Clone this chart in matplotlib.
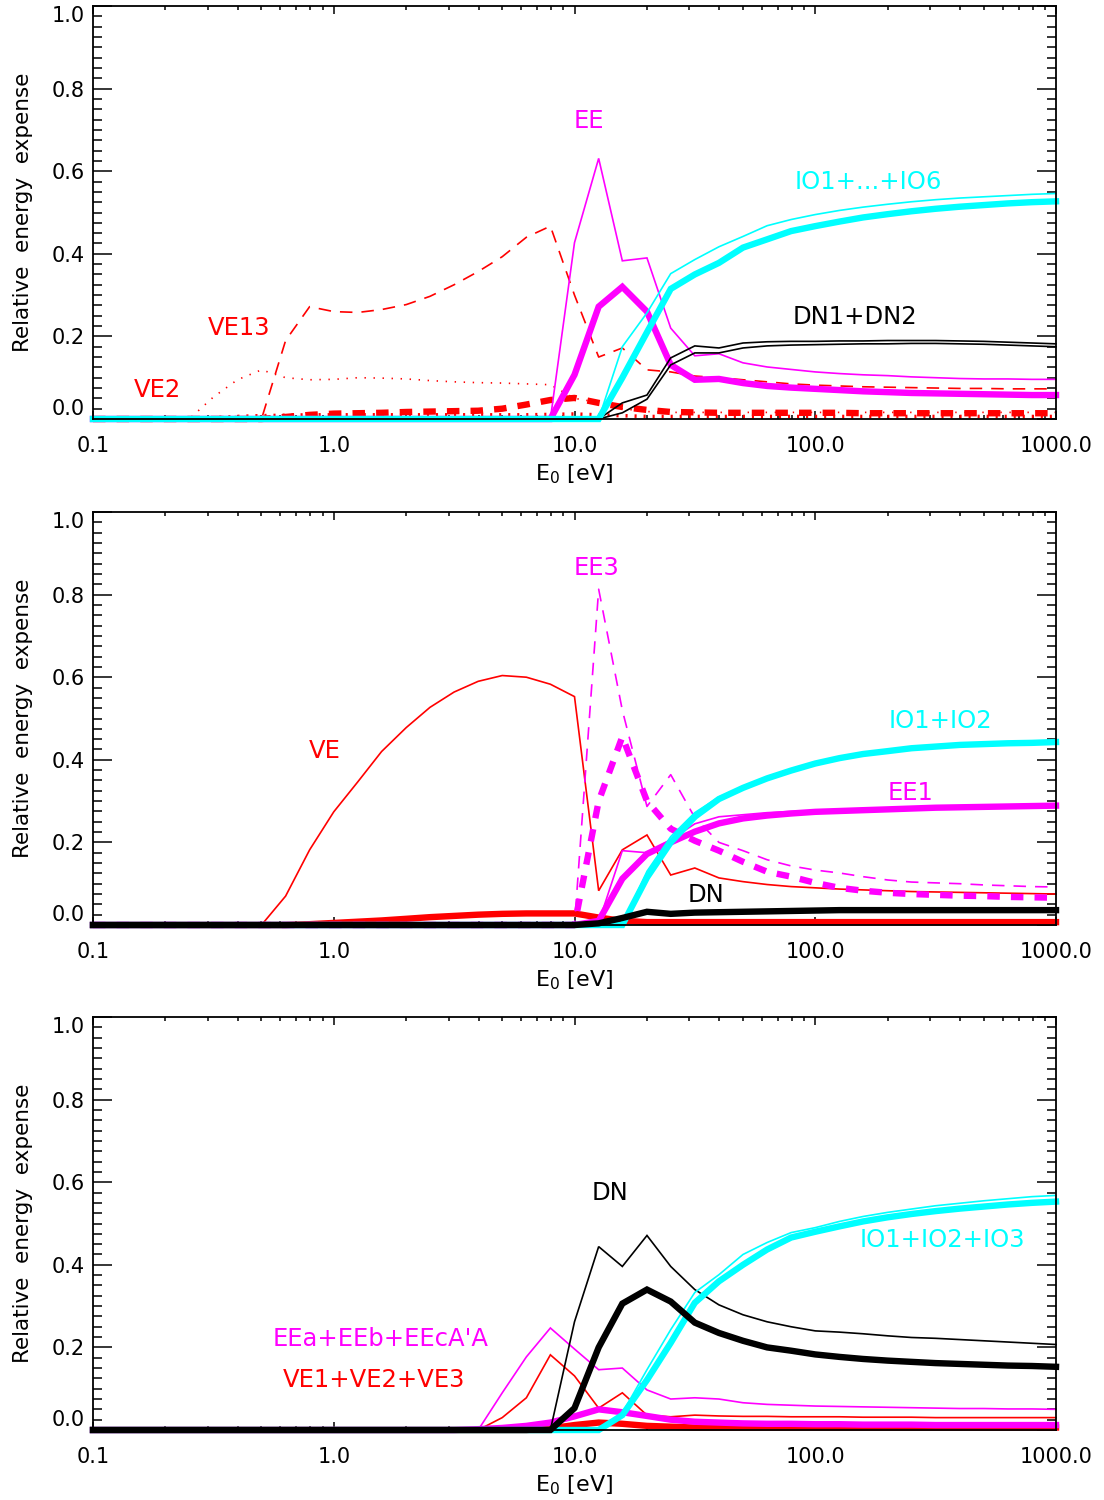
import matplotlib
matplotlib.use('Agg')
import matplotlib.pyplot as plt
from matplotlib import ticker

plt.rcParams['font.family'] = 'DejaVu Sans'
plt.rcParams['lines.scale_dashes'] = False

# energy grid [eV], 10 points per decade
x_ev = [0.1, 0.126, 0.158, 0.2, 0.251, 0.316, 0.398, 0.501, 0.631, 0.794,
        1.0, 1.26, 1.58, 2.0, 2.51, 3.16, 3.98, 5.01, 6.31, 7.94,
        10.0, 12.6, 15.8, 20.0, 25.1, 31.6, 39.8, 50.1, 63.1, 79.4,
        100.0, 126.0, 158.0, 200.0, 251.0, 316.0, 398.0, 501.0, 631.0, 794.0,
        1000.0]
x_ticks = [0.1, 1.0, 10.0, 100.0, 1000.0]
x_ticklabels = ['0.1', '1.0', '10.0', '100.0', '1000.0']
y_ticks = [0.0, 0.2, 0.4, 0.6, 0.8, 1.0]

# ---- panel 1
ee_thin = [0.0] * 20 + [0.427, 0.631, 0.383, 0.39, 0.22, 0.153, 0.158, 0.136, 0.126, 0.12,
                        0.114, 0.11, 0.107, 0.105, 0.102, 0.10, 0.098, 0.097, 0.097, 0.096, 0.096]
ee_thick = [0.0] * 20 + [0.107, 0.272, 0.32, 0.26, 0.131, 0.095, 0.097, 0.087, 0.08, 0.076,
                         0.073, 0.07, 0.067, 0.065, 0.063, 0.062, 0.061, 0.06, 0.059, 0.058, 0.058]
io6_thin = [0.0] * 22 + [0.175, 0.257, 0.352, 0.386, 0.417, 0.442, 0.468, 0.483, 0.495, 0.505,
                         0.513, 0.52, 0.526, 0.531, 0.535, 0.538, 0.541, 0.544, 0.546]
io6_thick = [0.0] * 22 + [0.10, 0.21, 0.315, 0.35, 0.378, 0.415, 0.435, 0.455, 0.467, 0.478,
                          0.488, 0.496, 0.503, 0.509, 0.514, 0.518, 0.522, 0.525, 0.527]
dn12_a = [0.0] * 22 + [0.039, 0.058, 0.148, 0.177, 0.172, 0.184, 0.187, 0.188, 0.188, 0.189,
                       0.189, 0.19, 0.19, 0.19, 0.189, 0.188, 0.186, 0.184, 0.182]
dn12_b = [0.0] * 22 + [0.015, 0.048, 0.131, 0.16, 0.16, 0.172, 0.177, 0.179, 0.18, 0.181,
                       0.182, 0.182, 0.183, 0.183, 0.182, 0.181, 0.179, 0.177, 0.175]
ve13_thin = [0.0] * 8 + [0.19, 0.272, 0.26, 0.258, 0.265, 0.277, 0.297, 0.325, 0.357, 0.393,
                         0.44, 0.467, 0.3, 0.15, 0.172, 0.119, 0.114, 0.104, 0.1, 0.095,
                         0.09, 0.085, 0.082, 0.08, 0.078, 0.077, 0.076, 0.075, 0.074, 0.074,
                         0.073, 0.073, 0.073]
ve13_thick = [0.0] * 8 + [0.005, 0.01, 0.013, 0.014, 0.015, 0.017, 0.018, 0.019, 0.02, 0.025,
                          0.035, 0.046, 0.051, 0.039, 0.029, 0.022, 0.017, 0.016, 0.015, 0.015,
                          0.015, 0.015, 0.015, 0.015, 0.014, 0.014, 0.014, 0.014, 0.014, 0.014,
                          0.014, 0.014, 0.014]
ve2_thin = [0.0] * 5 + [0.053, 0.095, 0.119, 0.1, 0.095, 0.096, 0.1, 0.099, 0.097, 0.093,
                        0.09, 0.088, 0.087, 0.085, 0.083, 0.05, 0.04, 0.025, 0.018] + [0.016] * 17
ve2_thick = [0.0] * 5 + [0.003, 0.006, 0.008, 0.009, 0.01, 0.01, 0.01, 0.01, 0.01, 0.01,
                         0.01, 0.01, 0.01, 0.01, 0.011, 0.012, 0.01, 0.008] + [0.006] * 18

# ---- panel 2
ve_thin = [0.0] * 8 + [0.07, 0.182, 0.274, 0.347, 0.42, 0.478, 0.527, 0.564, 0.59, 0.604,
                       0.6, 0.583, 0.553, 0.083, 0.182, 0.218, 0.121, 0.138, 0.114, 0.105,
                       0.098, 0.093, 0.09, 0.087, 0.085, 0.083, 0.081, 0.08, 0.079, 0.078,
                       0.077, 0.076, 0.075]
ve_thick = [0.0] * 9 + [0.002, 0.005, 0.008, 0.011, 0.015, 0.019, 0.022, 0.025, 0.027, 0.028,
                        0.028, 0.028, 0.018, 0.01] + [0.007] * 18
ee3_thin = [0.0] * 21 + [0.813, 0.52, 0.287, 0.364, 0.26, 0.2, 0.18, 0.158, 0.143, 0.133,
                         0.126, 0.117, 0.109, 0.104, 0.102, 0.1, 0.097, 0.095, 0.093, 0.092]
ee3_thick = [0.0] * 21 + [0.3, 0.456, 0.3, 0.233, 0.204, 0.18, 0.153, 0.129, 0.117, 0.102,
                          0.09, 0.083, 0.078, 0.075, 0.073, 0.071, 0.07, 0.068, 0.067, 0.066]
ee1_thin = [0.0] * 21 + [0.006, 0.18, 0.175, 0.206, 0.245, 0.262, 0.267, 0.272, 0.275, 0.277,
                         0.279, 0.28, 0.282, 0.284, 0.285, 0.287, 0.288, 0.289, 0.29, 0.291]
ee1_thick = [0.0] * 21 + [0.01, 0.112, 0.172, 0.2, 0.226, 0.246, 0.258, 0.265, 0.27, 0.274,
                          0.276, 0.278, 0.28, 0.282, 0.284, 0.285, 0.286, 0.287, 0.288, 0.289]
io2_thin = [0.0] * 23 + [0.13, 0.214, 0.272, 0.31, 0.335, 0.357, 0.376, 0.393, 0.405, 0.415,
                         0.422, 0.43, 0.432, 0.437, 0.439, 0.44, 0.441, 0.444]
io2_thick = [0.0] * 23 + [0.115, 0.2, 0.262, 0.305, 0.332, 0.355, 0.374, 0.391, 0.404, 0.414,
                          0.421, 0.428, 0.432, 0.436, 0.438, 0.44, 0.441, 0.443]
dn_thick2 = [0.0] * 21 + [0.004, 0.017, 0.032, 0.027, 0.03, 0.031, 0.032, 0.033, 0.034, 0.035,
                          0.036, 0.036, 0.036, 0.036, 0.036, 0.036, 0.036, 0.036, 0.036, 0.036]

# ---- panel 3
dn_thin3 = [0.0] * 20 + [0.262, 0.444, 0.396, 0.471, 0.396, 0.34, 0.303, 0.279, 0.262, 0.25,
                         0.24, 0.237, 0.233, 0.228, 0.224, 0.222, 0.219, 0.216, 0.213, 0.21, 0.207]
dn_thick3 = [0.0] * 20 + [0.053, 0.2, 0.306, 0.34, 0.311, 0.26, 0.235, 0.216, 0.2, 0.192,
                          0.183, 0.177, 0.172, 0.168, 0.165, 0.162, 0.16, 0.158, 0.156, 0.155, 0.153]
io3_thin = [0.0] * 22 + [0.041, 0.146, 0.243, 0.333, 0.376, 0.425, 0.454, 0.478, 0.49, 0.505,
                         0.517, 0.527, 0.535, 0.543, 0.549, 0.555, 0.56, 0.565, 0.568]
io3_thick = [0.0] * 22 + [0.036, 0.121, 0.211, 0.308, 0.36, 0.4, 0.437, 0.466, 0.48, 0.493,
                          0.505, 0.515, 0.523, 0.53, 0.536, 0.541, 0.546, 0.55, 0.553]
eeabc_thin = [0.0] * 17 + [0.09, 0.177, 0.247, 0.196, 0.146, 0.15, 0.097, 0.075, 0.078, 0.075,
                           0.066, 0.062, 0.06, 0.058, 0.057, 0.056, 0.055, 0.054, 0.053, 0.052,
                           0.052, 0.051, 0.051, 0.05]
eeabc_thick = [0.0] * 16 + [0.002, 0.005, 0.01, 0.018, 0.033, 0.05, 0.043, 0.034, 0.025, 0.02,
                            0.018, 0.016, 0.015, 0.015, 0.014, 0.014, 0.013, 0.013, 0.013, 0.012,
                            0.012, 0.012, 0.012, 0.012, 0.012]
ve123_thin = [0.0] * 17 + [0.03, 0.078, 0.182, 0.131, 0.053, 0.09, 0.036, 0.032, 0.036, 0.034,
                           0.033, 0.033, 0.032, 0.032, 0.032, 0.031, 0.031, 0.031, 0.03, 0.03,
                           0.03, 0.03, 0.03, 0.03]
ve123_thick = [0.0] * 19 + [0.004, 0.012, 0.018, 0.015, 0.01, 0.008] + [0.006] * 16

RED, MAG, CYA, BLK = '#ff0000', '#ff00ff', '#00ffff', '#000000'
THIN, THICK = 1.2, 4.6
DASH_THIN = (0, (9, 6.5))
DASH_THICK = (0, (9, 8))
DOT_THIN = (0, (1, 5.5))
DOT_THICK = (0, (1.5, 5))
LBL = 17.5


def line(ax, y, color, lw, ls='-'):
    ax.plot(x_ev, y, color=color, lw=lw, linestyle=ls, clip_on=False,
            solid_joinstyle='miter', dash_capstyle='butt')


def style(ax):
    ax.set_xscale('log')
    ax.set_xlim(0.1, 1000.0)
    ax.set_ylim(0.0, 1.0)
    ax.set_xticks(x_ticks)
    ax.set_xticklabels(x_ticklabels)
    ax.xaxis.set_minor_locator(ticker.LogLocator(base=10, subs=range(2, 10)))
    ax.xaxis.set_minor_formatter(ticker.NullFormatter())
    ax.set_yticks(y_ticks)
    ax.set_yticklabels(['%.1f' % v for v in y_ticks])
    ax.yaxis.set_minor_locator(ticker.MultipleLocator(0.025))
    ax.tick_params(which='both', direction='in', top=True, right=True,
                   labelsize=15, width=1.1, color='black')
    ax.tick_params(axis='y', which='major', length=14, pad=6)
    ax.tick_params(axis='y', which='minor', length=6.5)
    ax.tick_params(axis='x', which='major', length=6, pad=12)
    ax.tick_params(axis='x', which='minor', length=3)
    for s in ax.spines.values():
        s.set_linewidth(1.3)
    labs = ax.get_yticklabels()
    labs[0].set_verticalalignment('bottom')
    labs[-1].set_verticalalignment('top')
    ax.set_xlabel('E$_0$ [eV]', fontsize=16, labelpad=5)
    ax.set_ylabel('Relative  energy  expense', fontsize=15.5, labelpad=13)


fig = plt.figure(figsize=(11.04, 15), dpi=100)
left, width, height = 93 / 1104, 963 / 1104, 413 / 1500
ax1 = fig.add_axes([left, 1 - 419 / 1500, width, height])
ax2 = fig.add_axes([left, 1 - 925 / 1500, width, height])
ax3 = fig.add_axes([left, 1 - 1430 / 1500, width, height])

# panel 1
line(ax1, ve2_thick, RED, 2.6, DOT_THICK)
line(ax1, ve13_thick, RED, THICK, DASH_THICK)
line(ax1, ve2_thin, RED, 1.2, DOT_THIN)
line(ax1, ve13_thin, RED, THIN, DASH_THIN)
line(ax1, ee_thin, MAG, THIN)
line(ax1, ee_thick, MAG, THICK)
line(ax1, dn12_a, BLK, THIN)
line(ax1, dn12_b, BLK, THIN)
line(ax1, io6_thin, CYA, THIN)
line(ax1, io6_thick, CYA, THICK)
ax1.text(11.5, 0.721, 'EE', color=MAG, fontsize=LBL, ha='center', va='center')
ax1.text(166, 0.573, 'IO1+...+IO6', color=CYA, fontsize=LBL, ha='center', va='center')
ax1.text(146, 0.248, 'DN1+DN2', color=BLK, fontsize=LBL, ha='center', va='center')
ax1.text(0.404, 0.221, 'VE13', color=RED, fontsize=LBL, ha='center', va='center')
ax1.text(0.186, 0.070, 'VE2', color=RED, fontsize=LBL, ha='center', va='center')

# panel 2
line(ax2, ve_thin, RED, THIN)
line(ax2, ve_thick, RED, THICK)
line(ax2, ee3_thin, MAG, THIN, DASH_THIN)
line(ax2, ee3_thick, MAG, THICK, DASH_THICK)
line(ax2, ee1_thin, MAG, THIN)
line(ax2, ee1_thick, MAG, THICK)
line(ax2, io2_thin, CYA, THIN)
line(ax2, io2_thick, CYA, THICK)
line(ax2, dn_thick2, BLK, THICK)
ax2.text(12.4, 0.864, 'EE3', color=MAG, fontsize=LBL, ha='center', va='center')
ax2.text(0.918, 0.422, 'VE', color=RED, fontsize=LBL, ha='center', va='center')
ax2.text(330, 0.493, 'IO1+IO2', color=CYA, fontsize=LBL, ha='center', va='center')
ax2.text(248, 0.320, 'EE1', color=MAG, fontsize=LBL, ha='center', va='center')
ax2.text(35.3, 0.073, 'DN', color=BLK, fontsize=LBL, ha='center', va='center')

# panel 3
line(ax3, ve123_thin, RED, THIN)
line(ax3, ve123_thick, RED, THICK)
line(ax3, eeabc_thin, MAG, THIN)
line(ax3, eeabc_thick, MAG, THICK)
line(ax3, dn_thin3, BLK, THIN)
line(ax3, io3_thin, CYA, THIN)
line(ax3, io3_thick, CYA, THICK)
line(ax3, dn_thick3, BLK, THICK)
ax3.text(14.1, 0.573, 'DN', color=BLK, fontsize=LBL, ha='center', va='center')
ax3.text(336, 0.461, 'IO1+IO2+IO3', color=CYA, fontsize=LBL, ha='center', va='center')
ax3.text(1.567, 0.221, "EEa+EEb+EEcA'A", color=MAG, fontsize=LBL, ha='center', va='center')
ax3.text(1.466, 0.121, 'VE1+VE2+VE3', color=RED, fontsize=LBL, ha='center', va='center')

for ax in (ax1, ax2, ax3):
    style(ax)

fig.savefig('out.png', dpi=100)
